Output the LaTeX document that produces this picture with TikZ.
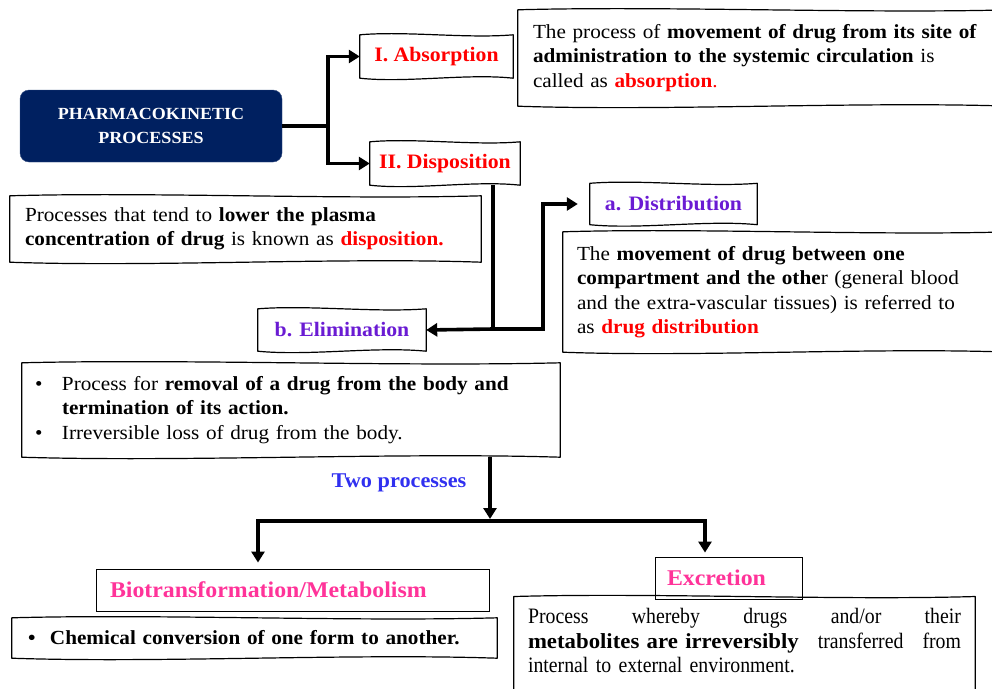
\documentclass[tikz,border=0pt]{standalone}
\usepackage{fontspec}
\setmainfont[FakeStretch=1.06]{Liberation Serif}
\newfontfamily\narrowfont[FakeStretch=0.9]{Liberation Serif}
\usetikzlibrary{arrows.meta,calc}
\definecolor{navy}{HTML}{002060}
\definecolor{violet}{HTML}{6A1BD3}
\definecolor{procblue}{HTML}{3030F0}
\definecolor{pinkred}{HTML}{FF3399}

% hand-drawn looking frame through four corners
\newcommand\wavy[4]{%
  \draw[frame] #1
    .. controls ($#1!.3!#2+(0,-4)$) and ($#1!.7!#2+(0,4)$) .. #2
    -- #3
    .. controls ($#4!.7!#3+(0,-5)$) and ($#4!.3!#3+(0,5)$) .. #4
    -- cycle;}
\newcommand\wavynode[1]{\wavy{(#1.north west)}{(#1.north east)}{(#1.south east)}{(#1.south west)}}

\begin{document}
\begin{tikzpicture}[x=1pt,y=-1pt,
  frame/.style={draw=black, line width=1.2pt, line join=round},
  conn/.style={line width=3.6pt, line join=miter},
  tip/.tip={Triangle[length=11pt,width=13pt]},
  pk/.style={fill=navy, draw=navy!80!white, rounded corners=9pt,
    minimum width=262pt, minimum height=72pt, text=white, align=center,
    font=\bfseries\fontsize{17}{24}\selectfont},
  lbl/.style={inner sep=0pt, font=\bfseries\fontsize{20.5}{24}\selectfont},
  desc/.style={inner ysep=0pt, align=left, font=\fontsize{20}{24.5}\selectfont},
  plainbox/.style={draw=black, line width=0.9pt, inner ysep=0pt, align=left,
    font=\bfseries\fontsize{22.5}{26}\selectfont, text=pinkred},
]
\useasboundingbox (0,0) rectangle (992,688);

% ---------- top level ----------
\node[pk] (pk) at (151,126) {PHARMACOKINETIC\\PROCESSES};

\node[lbl, text=red, minimum width=153pt, minimum height=43pt] (abs) at (436.5,56.5) {I. Absorption};
\node[lbl, text=red, minimum width=150pt, minimum height=43pt] (disp) at (445,163.5) {II. Disposition};
\wavynode{abs}
\wavynode{disp}

\node[desc, inner xsep=15pt, text width=462pt, minimum height=96pt] (absd) at (764,58)
  {The process of \textbf{movement of drug from its site of}\\
   \textbf{administration to the systemic circulation} is\\
   called as \textcolor{red}{\textbf{absorption}.}};
\wavynode{absd}

\node[desc, inner xsep=15pt, text width=441pt, minimum height=66pt] (dispd) at (245.5,229)
  {Processes that tend to \textbf{lower the plasma}\\
   \textbf{concentration of drug} is known as \textcolor{red}{\textbf{disposition.}}};
\wavynode{dispd}

% ---------- disposition branches ----------
\node[lbl, text=violet, minimum width=167pt, minimum height=41pt] (dist) at (673.5,204) {a. Distribution};
\node[lbl, text=violet, minimum width=168pt, minimum height=42pt] (elim) at (342,330) {b. Elimination};
\wavynode{dist}
\wavynode{elim}

\node[desc, inner xsep=14pt, text width=419pt, minimum height=120pt] (distd) at (786.5,292)
  {The \textbf{movement of drug between one}\\
   \textbf{compartment and the othe}r (general blood\\
   and the extra-vascular tissues) is referred to\\
   as \textcolor{red}{\textbf{drug distribution}}};
\wavynode{distd}

\node[desc, inner xsep=13pt, text width=512pt, minimum height=94pt] (elimd) at (291,410)
  {\makebox[27pt][l]{\textbullet}Process for \textbf{removal of a drug from the body and}\\
   \hspace*{27pt}\textbf{termination of its action.}\\
   \makebox[27pt][l]{\textbullet}Irreversible loss of drug from the body.};
\wavynode{elimd}

% ---------- two processes ----------
\node[font=\bfseries\fontsize{21}{24}\selectfont, text=procblue] (two) at (399,483) {Two processes};

\node[plainbox, inner xsep=14pt, text width=365pt, minimum height=42pt] (bio) at (292.5,590)
  {Biotransformation/Metabolism};
\node[plainbox, inner xsep=12pt, text width=123pt, minimum height=42pt] (exc) at (728.5,578)
  {Excretion};

\node[inner xsep=16pt, inner ysep=0pt, text width=453pt, minimum height=40pt, align=left,
  font=\bfseries\fontsize{20}{24}\selectfont] (chem) at (254.5,638)
  {\makebox[22pt][l]{\textbullet}Chemical conversion of one form to another.};
\wavynode{chem}

\node[inner xsep=14pt, inner ysep=0pt, text width=433pt, align=left,
  font=\narrowfont\fontsize{22}{24.5}\selectfont] (exd) at (744.5,641)
  {\makebox[433pt]{Process\hfill whereby\hfill drugs\hfill and/or\hfill their}\\
   \makebox[433pt]{{\rmfamily\bfseries\fontsize{21.5}{24.5}\selectfont metabolites are irreversibly}\hfill transferred\hfill from}\\
   internal to external environment.};
\wavy{($(exd.north west)+(0,-12)$)}{($(exd.north east)+(0,-12)$)}
     {($(exd.south east)+(0,50)$)}{($(exd.south west)+(0,50)$)}

% ---------- connectors ----------
\coordinate (j1) at (328,126);
\draw[conn] (pk.east) -- (j1);
\draw[conn, tip-tip] (abs.west) -| (j1) |- (disp.west);

\coordinate (dj) at (493,329);
\coordinate (dk) at (543,329);
\draw[conn, -tip] (disp.south -| dj) -- (dj) -- (elim.east);
\draw[conn, -tip, shorten >=12pt] (dj) -- (dk) |- (dist.west);

\coordinate (split) at (490,521);
\coordinate (bl) at (258,521);
\coordinate (br) at (705,521);
\draw[conn, -tip, shorten >=2pt] (elimd.south -| split) -- (split);
\draw[conn, tip-tip, shorten <=6pt, shorten >=4pt] (bio.north -| bl) -- (bl) -- (br) -- (exc.north -| br);
\end{tikzpicture}
\end{document}
